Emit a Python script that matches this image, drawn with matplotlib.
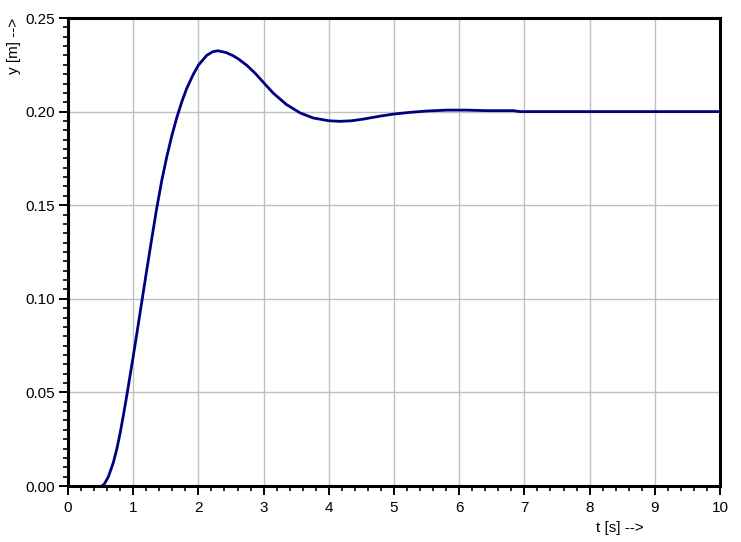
import matplotlib
matplotlib.use("Agg")
import matplotlib.pyplot as plt
from matplotlib.ticker import MultipleLocator

# step response (zero before t = 0.52 s)
t = [0.52, 0.56, 0.62, 0.695, 0.747, 0.80, 0.848, 0.90, 0.95, 1.0, 1.054,
     1.104, 1.207, 1.283, 1.36, 1.437, 1.514, 1.59, 1.667, 1.744, 1.82,
     1.92, 2.0, 2.127, 2.22, 2.30, 2.43, 2.535, 2.61, 2.74, 2.87, 3.0, 3.15,
     3.35, 3.56, 3.76, 4.0, 4.17, 4.35, 4.53, 4.79, 5.0, 5.25, 5.5, 5.81,
     6.11, 6.42, 6.83, 6.93, 8.0, 10.0]
y = [0.0, 0.0012, 0.0050, 0.0125, 0.0195, 0.0283, 0.0375, 0.0480, 0.0585,
     0.0692, 0.0810, 0.0922, 0.1152, 0.1318, 0.1482, 0.1630, 0.1757, 0.1868,
     0.1966, 0.2051, 0.2123, 0.2198, 0.2248, 0.2300, 0.2320, 0.2325, 0.2315,
     0.2298, 0.2282, 0.2248, 0.2205, 0.2155, 0.2098, 0.2038, 0.1993, 0.1966,
     0.1951, 0.1948, 0.1951, 0.1960, 0.1976, 0.1987, 0.1996, 0.2003, 0.2008,
     0.2008, 0.2005, 0.2005, 0.2000, 0.2000, 0.2000]

x_ticks = list(range(0, 11))
y_ticks = [0.00, 0.05, 0.10, 0.15, 0.20, 0.25]

plt.rcParams['font.family'] = ['Liberation Sans', 'DejaVu Sans']

fig = plt.figure(figsize=(7.41, 5.42), dpi=100)
ax = fig.add_axes([68 / 741, 1 - 486 / 542, 652 / 741, 468 / 542])

ax.plot(t, y, color='#000080', lw=2.0, solid_joinstyle='round')

ax.set_xlim(0, 10)
ax.set_ylim(0, 0.25)
ax.set_xticks(x_ticks)
ax.set_yticks(y_ticks)
ax.set_yticklabels([f"{v:.2f}" for v in y_ticks])
ax.xaxis.set_minor_locator(MultipleLocator(0.2))
ax.yaxis.set_minor_locator(MultipleLocator(0.005))

ax.grid(True, which='major', color='#c0c0c0', lw=1.0)
ax.set_axisbelow(True)
for s in ax.spines.values():
    s.set_linewidth(2.2)
    s.set_color('black')

ax.tick_params(which='major', direction='out', length=6.5, width=1.4,
               labelsize=11, pad=3)
ax.tick_params(axis='x', which='major', pad=4.5)
ax.tick_params(which='minor', direction='out', length=3.5, width=1.2)

fig.text(14 / 741, 1 - 18 / 542, 'y [m] -->', rotation=90, ha='center',
         va='top', fontsize=11)
fig.text(620 / 741, 1 - 528 / 542, 't [s] -->', ha='center', va='center',
         fontsize=11)

fig.savefig('out.png', dpi=100)
